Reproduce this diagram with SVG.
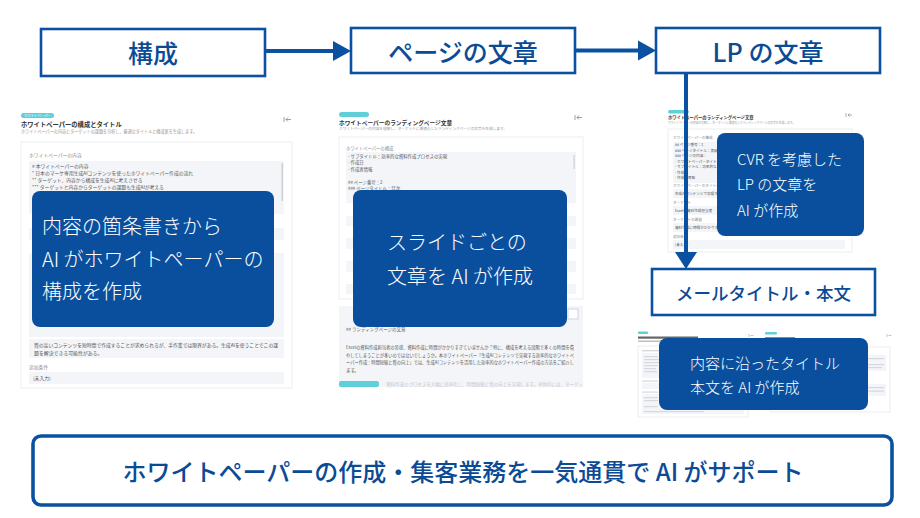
<svg xmlns="http://www.w3.org/2000/svg" width="920" height="518" viewBox="0 0 920 518">
<style>
text{font-family:"Noto Sans CJK JP","Noto Sans",sans-serif}
.step{fill:#fff;stroke:#0b51a1;stroke-width:2.6}
.steptxt{fill:#0b4b96;font-size:25px;font-weight:500;text-anchor:middle;dominant-baseline:central}
.call{fill:#0a4f9e}
.calltxt{fill:#fff;font-size:20px;font-weight:300}
.calltxt2{fill:#fff;font-size:15px;font-weight:300}
.card{fill:#fff;stroke:#ebedf1;stroke-width:1}
.fld{fill:#f4f5f9}
.pill{fill:#5fd0d8}
.ttl{fill:#333;font-weight:700}
.sub{fill:#999}
.lbl{fill:#8a8d95}
.body{fill:#555}
.bar{fill:#d6d8de}
.conn{stroke:#0b51a1;stroke-width:4;fill:none}
.head{fill:#0b51a1}
</style>

<!-- screenshot 1 -->
<g id="shot1">
  <rect class="pill" x="21" y="113" width="33" height="5" rx="2.5"/>
  <text x="37.5" y="117" font-size="3.4" fill="#fff" text-anchor="middle">ホワイトペーパー</text>
  <text class="ttl" x="21" y="127" font-size="6.3">ホワイトペーパーの構成とタイトル</text>
  <text class="sub" x="21" y="132.5" font-size="4.2" textLength="176" lengthAdjust="spacingAndGlyphs">ホワイトペーパーの内容とターゲットの課題を分析し、最適なタイトルと構成案を生成します。</text>
  <path d="M284 117v5M286 119.5h5M286 119.5l2-2M286 119.5l2 2" stroke="#777" stroke-width="0.7" fill="none"/>
  <rect class="card" x="21" y="142" width="271" height="246"/>
  <text class="lbl" x="29" y="157" font-size="4.8">ホワイトペーパーの内容</text>
  <rect class="fld" x="29" y="161" width="255" height="53"/>
  <rect x="281.5" y="163" width="1.5" height="38" fill="#cfd1d6"/>
  <text class="body" x="32" y="168" font-size="4.8"># 本ワイトペーパーの内容</text>
  <text class="body" x="32" y="174.5" font-size="4.8">* 日本のマーケ専用生成AIコンテンツを使ったホワイトペーパー作成の流れ</text>
  <text class="body" x="32" y="181.5" font-size="4.8">** ターゲット、内容から構成を生成AIに考えさせる</text>
  <text class="body" x="32" y="188.5" font-size="4.8">*** ターゲットと内容からターゲットの課題も生成AIが考える</text>
  <rect class="fld" x="29" y="228" width="255" height="12"/>
  <rect class="fld" x="29" y="253" width="255" height="84"/>
  <rect class="fld" x="29" y="339" width="255" height="19"/>
  <text class="body" x="34" y="346.5" font-size="4.9" textLength="244" lengthAdjust="spacingAndGlyphs">質の高いコンテンツを短時間で作成することが求められるが、手作業では限界がある。生成AIを使うことでこの課</text>
  <text class="body" x="34" y="354.5" font-size="4.9">題を解決できる可能性がある。</text>
  <text class="lbl" x="29" y="369" font-size="4.8">追加条件</text>
  <rect class="fld" x="29" y="372" width="255" height="12"/>
  <text class="body" x="33" y="380" font-size="4.8">(未入力)</text>
</g>

<!-- screenshot 2 -->
<g id="shot2">
  <rect class="pill" x="339" y="112" width="30" height="5" rx="2.5"/>
  <text class="ttl" x="339" y="124.5" font-size="5.7">ホワイトペーパーのランディングページ文章</text>
  <text class="sub" x="339" y="130" font-size="3.7" textLength="168" lengthAdjust="spacingAndGlyphs">ホワイトペーパーの内容を理解し、ターゲットに最適化したランディングページの文章を生成します。</text>
  <path d="M575 115v5M577 117.5h5M577 117.5l2-2M577 117.5l2 2" stroke="#777" stroke-width="0.7" fill="none"/>
  <rect class="card" x="339" y="137" width="244" height="162"/>
  <text class="lbl" x="346" y="150" font-size="4.3">ホワイトペーパーの構成</text>
  <rect class="fld" x="346" y="152" width="230" height="51"/>
  <rect x="573.5" y="155" width="1.2" height="14" fill="#cfd1d6"/>
  <text class="body" x="348" y="157.5" font-size="4.4">- サブタイトル：効率的な資料作成プロセスの実現</text>
  <text class="body" x="348" y="164" font-size="4.4">- 作成日</text>
  <text class="body" x="348" y="170.5" font-size="4.4">- 作成者情報</text>
  <text class="body" x="348" y="184" font-size="4.4">## ページ番号：2</text>
  <text class="body" x="348" y="189.5" font-size="4.4">### ページタイトル：目次</text>
  <rect class="fld" x="346" y="216" width="230" height="10"/>
  <rect class="fld" x="346" y="238" width="230" height="11"/>
  <rect class="fld" x="346" y="261" width="230" height="11"/>
  <rect class="fld" x="346" y="284" width="230" height="10"/>
  <rect class="fld" x="339" y="306" width="244" height="81"/>
  <rect x="568" y="309" width="10" height="10" fill="#fff" stroke="#bbb" stroke-width="0.6"/>
  <text class="body" x="346" y="331" font-size="4.5">## ランディングページの文章</text>
  <text class="body" x="346" y="349" font-size="4.4" textLength="228" lengthAdjust="spacingAndGlyphs">Excelの資料作成担当者の皆様、資料作成に時間がかかりすぎていませんか？特に、構成を考える段階で多くの時間を費</text>
  <text class="body" x="346" y="356.5" font-size="4.4" textLength="228" lengthAdjust="spacingAndGlyphs">やしてしまうことが多いのではないでしょうか。本ホワイトペーパー「生成AIコンテンツで実現する効率的なホワイトペ</text>
  <text class="body" x="346" y="364" font-size="4.4" textLength="228" lengthAdjust="spacingAndGlyphs">ーパー作成：時間短縮と質の向上」では、生成AIコンテンツを活用した効率的なホワイトペーパー作成の方法をご紹介し</text>
  <text class="body" x="346" y="371.5" font-size="4.4">ます。</text>
  <rect class="pill" x="339" y="381" width="40" height="6" rx="2"/>
  <text x="386" y="386" font-size="4.3" fill="#c4c6cc" textLength="197" lengthAdjust="spacingAndGlyphs">資料作成のプロセスを大幅に効率化し、時間短縮と質の向上を実現します。具体的には、ターゲッ</text>
</g>

<!-- screenshot 3 -->
<g id="shot3">
  <rect class="pill" x="668" y="110" width="21" height="3.5" rx="1.7"/>
  <text class="ttl" x="668" y="118.5" font-size="4.3">ホワイトペーパーのランディングページ文章</text>
  <text class="sub" x="668" y="123.5" font-size="3" textLength="127" lengthAdjust="spacingAndGlyphs">ホワイトペーパーの内容を理解し、ターゲットに最適化したランディングページの文章を生成します。</text>
  <path d="M846 113v4M848 115h4M848 115l1.5-1.5M848 115l1.5 1.5" stroke="#777" stroke-width="0.6" fill="none"/>
  <rect class="card" x="668" y="129" width="184" height="123"/>
  <text class="lbl" x="673" y="139" font-size="3.6">ホワイトペーパーの構成</text>
  <rect class="fld" x="673" y="142" width="172" height="41"/>
  <text class="body" x="675" y="146" font-size="3.6">## ページ番号：1</text>
  <text class="body" x="675" y="151.5" font-size="3.6">### ページタイトル：表紙</text>
  <text class="body" x="675" y="157" font-size="3.6">### ページの内容：</text>
  <text class="body" x="675" y="162.5" font-size="3.6">- ホワイトペーパータイトル：</text>
  <text class="body" x="675" y="168" font-size="3.6">- サブタイトル：効率的な</text>
  <text class="body" x="675" y="173.5" font-size="3.6">- 作成日</text>
  <text class="body" x="675" y="179" font-size="3.6">- 作成者情報</text>
  <text class="lbl" x="673" y="187" font-size="3.6">ホワイトペーパーのタイトル</text>
  <rect class="fld" x="673" y="189" width="172" height="9"/>
  <text class="body" x="675" y="195" font-size="3.6">生成AIコンテンツで実現する</text>
  <text class="lbl" x="673" y="203.5" font-size="3.6">ターゲット</text>
  <rect class="fld" x="673" y="206" width="172" height="9"/>
  <text class="body" x="675" y="212" font-size="3.6">Excelの資料作成担当者</text>
  <text class="lbl" x="673" y="220.5" font-size="3.6">ターゲットの課題</text>
  <rect class="fld" x="673" y="223" width="172" height="9"/>
  <text class="body" x="675" y="229" font-size="3.6">資料作成に時間がかかりすぎて</text>
  <text class="lbl" x="673" y="237.5" font-size="3.6">追加条件</text>
  <rect class="fld" x="673" y="240" width="172" height="9"/>
  <text class="body" x="675" y="246" font-size="3.6">(未入力)</text>
</g>

<!-- screenshots 4 & 5 (tiny) -->
<g id="shot4">
  <rect class="pill" x="638" y="331.5" width="10" height="2.5" rx="1"/>
  <rect x="638" y="336.5" width="60" height="2.2" fill="#666"/>
  <rect x="638" y="340.5" width="70" height="1.4" fill="#bbb"/>
  <path d="M749 334v3M750.5 335.5h3" stroke="#888" stroke-width="0.5"/>
  <rect class="card" x="638" y="346" width="110" height="71"/>
  <rect class="bar" x="642" y="350" width="20" height="1.4"/>
  <rect class="fld" x="642" y="353" width="102" height="25"/>
  <rect class="bar" x="644" y="356" width="14" height="1.2"/>
  <rect class="bar" x="644" y="359" width="15" height="1.2"/>
  <rect class="bar" x="644" y="362" width="15" height="1.2"/>
  <rect class="bar" x="644" y="365" width="14" height="1.2"/>
  <rect class="bar" x="644" y="368" width="12" height="1.2"/>
  <rect class="bar" x="644" y="371" width="13" height="1.2"/>
  <rect class="bar" x="642" y="380.5" width="16" height="1.2"/>
  <rect class="fld" x="642" y="383" width="102" height="6"/>
  <rect class="bar" x="642" y="391.5" width="16" height="1.2"/>
  <rect class="fld" x="642" y="394" width="102" height="20"/>
  <rect class="bar" x="644" y="397" width="14" height="1.2"/>
  <rect class="bar" x="644" y="400" width="14" height="1.2"/>
  <rect class="bar" x="644" y="406" width="14" height="1.2"/>
  <rect class="bar" x="644" y="411" width="60" height="1.2"/>
</g>
<g id="shot5">
  <rect class="pill" x="765" y="332" width="12" height="2.5" rx="1"/>
  <rect x="765" y="337" width="30" height="1.8" fill="#888"/>
  <path d="M887 334v3M888.5 335.5h3" stroke="#888" stroke-width="0.5"/>
  <rect class="card" x="770" y="347" width="120" height="65"/>
  <rect class="fld" x="774" y="355" width="112" height="16"/>
  <rect class="bar" x="868" y="358" width="16" height="1.2"/>
  <rect class="bar" x="868" y="364" width="16" height="1.2"/>
  <rect class="bar" x="868" y="367" width="14" height="1.2"/>
  <rect class="fld" x="774" y="384" width="112" height="12"/>
  <rect class="bar" x="868" y="387" width="16" height="1.2"/>
  <rect class="bar" x="868" y="390.5" width="16" height="1.2"/>
</g>

<!-- step nodes -->
<g id="step1">
  <rect class="step" x="41" y="29" width="224" height="47"/>
  <text class="steptxt" x="153" y="52">構成</text>
</g>
<g id="step2">
  <rect class="step" x="351" y="28" width="224" height="45"/>
  <text class="steptxt" x="463" y="50.5">ページの文章</text>
</g>
<g id="step3">
  <rect class="step" x="656" y="28" width="224" height="45"/>
  <text class="steptxt" x="768" y="50.5">LP の文章</text>
</g>
<g id="step4">
  <rect class="step" x="652" y="269" width="223" height="46"/>
  <text class="steptxt" x="763.5" y="292.5" style="font-size:17.5px">メールタイトル・本文</text>
</g>

<!-- connectors -->
<g id="connectors">
  <line class="conn" x1="265" y1="51" x2="335" y2="51"/>
  <polygon class="head" points="333,41 351,51 333,61"/>
  <line class="conn" x1="575" y1="50.5" x2="640" y2="50.5"/>
  <polygon class="head" points="638,40.5 656,50.5 638,60.5"/>
  <line class="conn" x1="686" y1="73" x2="686" y2="254"/>
  <polygon class="head" points="675,252 697,252 686,269"/>
</g>

<!-- callouts -->
<g id="callout1">
  <rect class="call" x="32" y="191" width="242" height="136" rx="8"/>
  <text class="calltxt" x="42" y="234">内容の箇条書きから</text>
  <text class="calltxt" x="42" y="267">AI がホワイトペーパーの</text>
  <text class="calltxt" x="42" y="299">構成を作成</text>
</g>
<g id="callout2">
  <rect class="call" x="353" y="190" width="214" height="137" rx="8"/>
  <text class="calltxt" x="387" y="250">スライドごとの</text>
  <text class="calltxt" x="387" y="284">文章を AI が作成</text>
</g>
<g id="callout3">
  <rect class="call" x="717" y="133" width="147" height="103" rx="8"/>
  <text class="calltxt2" x="737" y="164.5">CVR を考慮した</text>
  <text class="calltxt2" x="737" y="190">LP の文章を</text>
  <text class="calltxt2" x="737" y="215.5">AI が作成</text>
</g>
<g id="callout4">
  <rect class="call" x="659" y="338" width="209" height="72" rx="8"/>
  <text class="calltxt2" x="690" y="368.5">内容に沿ったタイトル</text>
  <text class="calltxt2" x="690" y="393">本文を AI が作成</text>
</g>

<!-- summary -->
<g id="summary">
  <rect x="33" y="436" width="859" height="69" rx="8" fill="#fff" stroke="#0b51a1" stroke-width="3.6"/>
  <text x="463" y="470" fill="#0b4b96" font-size="24" font-weight="500" text-anchor="middle" dominant-baseline="central">ホワイトペーパーの作成・集客業務を一気通貫で AI がサポート</text>
</g>
</svg>
